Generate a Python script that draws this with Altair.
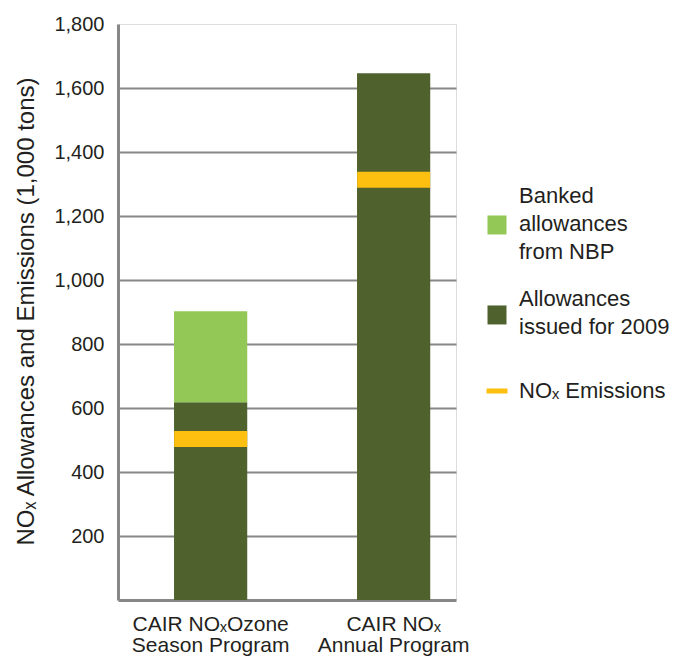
import json
import altair as alt
import pandas as pd

# ---- data ----
programs = ["CAIR NOₓOzone\nSeason Program", "CAIR NOₓ\nAnnual Program"]
allowances_2009 = [618, 1646]
banked_nbp = [284, 0]
nox_emissions = [503, 1313]

series_labels = ["Banked\nallowances\nfrom NBP", "Allowances\nissued for 2009", "NOₓ Emissions"]
series_colors = ["#93c857", "#4f612c", "#fdc010"]

y_ticks = [200, 400, 600, 800, 1000, 1200, 1400, 1600, 1800]
y_title = "NOₓ Allowances and Emissions (1,000 tons)"

df = pd.DataFrame({
    "program": programs,
    "allowances": allowances_2009,
    "banked": banked_nbp,
    "emissions": nox_emissions,
})

FONT = "Liberation Sans"
TXT = "#231f20"
GRID = "#878787"

x_enc = alt.X(
    "program:N",
    sort=programs,
    scale=alt.Scale(paddingInner=0.6, paddingOuter=0.2235, align=0.685),
    axis=alt.Axis(
        title=None, labelAngle=0, labelExpr="split(datum.label, '\\n')",
        labelFont=FONT, labelFontSize=21, labelColor=TXT, labelLineHeight=21,
        labelPadding=13, ticks=False, domainColor=GRID, domainWidth=3,
        grid=False, labelLimit=400,
    ),
)

y_scale = alt.Scale(domain=[0, 1800], nice=False)
y_axis = alt.Axis(
    values=y_ticks, format=",d", grid=True, gridColor=GRID, gridWidth=2,
    gridOpacity=alt.condition("datum.value == 1800", alt.value(0), alt.value(1)),
    domainColor=GRID, domainWidth=3, ticks=False,
    labelFont=FONT, labelFontSize=20, labelColor=TXT, labelPadding=14,
    title=y_title, titleFont=FONT, titleFontSize=24, titleFontWeight="normal",
    titleColor=TXT, titleX=-85, titleY=287, titleAngle=270,
    titleBaseline="alphabetic", titleAlign="center",
)


def legend(x, y, symbol_type, symbol_size):
    return alt.Legend(
        title=None, orient="none", legendX=x, legendY=y, direction="vertical",
        padding=0, symbolType=symbol_type, symbolSize=symbol_size,
        symbolStrokeWidth=0, symbolOpacity=1,
        labelFont=FONT, labelFontSize=22, labelColor=TXT, labelOffset=11,
        labelLimit=400, labelExpr="split(datum.label, '\\n')",
    )


def color_for(i, lx, ly, stype, ssize):
    return alt.Color(
        "series:N",
        scale=alt.Scale(domain=[series_labels[i]], range=[series_colors[i]]),
        legend=legend(lx, ly, stype, ssize),
    )


base = alt.Chart(df)

allow = base.transform_calculate(
    series=json.dumps(series_labels[1])
).mark_bar(opacity=1).encode(
    x=x_enc,
    y=alt.Y("allowances:Q", scale=y_scale, axis=y_axis),
    color=color_for(1, 368, 264, "M-1,0.68H1V2.68H-1Z", 361),
)

banked = base.transform_calculate(
    series=json.dumps(series_labels[0]),
    top="datum.allowances + datum.banked",
).mark_bar(opacity=1).encode(
    x=x_enc,
    y=alt.Y("allowances:Q", scale=y_scale),
    y2="top:Q",
    color=color_for(0, 368, 161, "M-1,2.05H1V4.05H-1Z", 361),
)

emis = base.transform_calculate(
    series=json.dumps(series_labels[2])
).mark_tick(thickness=16, size=73, opacity=1).encode(
    x=x_enc,
    y=alt.Y("emissions:Q", scale=y_scale),
    color=color_for(2, 368, 356, "M-1,-0.24H1V0.24H-1Z", 441),
)

chart = alt.layer(allow, banked, emis).resolve_scale(
    color="independent"
).properties(
    width=338, height=576,
    autosize=alt.AutoSizeParams(type="none"),
    padding={"left": 110, "top": 16, "right": 220, "bottom": 56},
    background="white",
).configure_view(
    fill="#e5e6e8", strokeWidth=0
).configure(
    style={"guide-label": {"lineHeight": 28}}
)

chart.save("out.html", embed_options={"renderer": "svg", "actions": False})
